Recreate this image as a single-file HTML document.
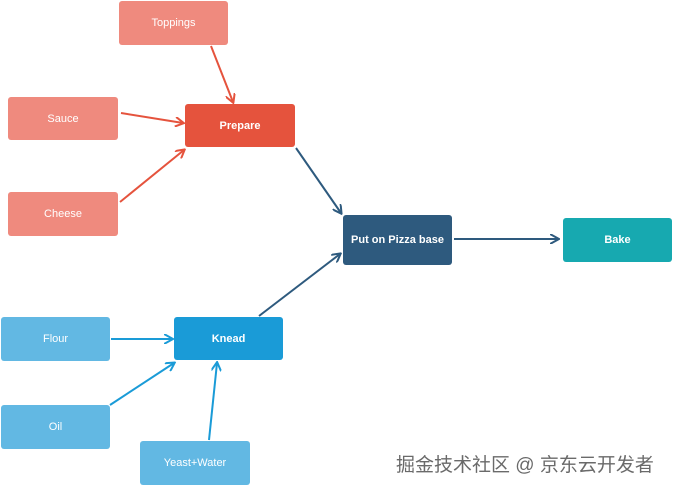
<!DOCTYPE html>
<html><head><meta charset="utf-8"><style>
body{margin:0;width:674px;height:488px;background:#fff;position:relative;overflow:hidden;font-family:"Liberation Sans",Arial,sans-serif}
.n{position:absolute;border-radius:3px;color:#fff;font-size:11px;display:flex;align-items:center;justify-content:center}
.s{background:#ef8a7e}.b{background:#62b8e3}
.wm{position:absolute;left:396px;top:450px;font-size:19px;color:#6a6a6a;font-family:"Liberation Sans","Noto Sans CJK SC",sans-serif;letter-spacing:0px}
</style></head><body>
<svg width="674" height="488" style="position:absolute;left:0;top:0">
<defs>
<marker id="r" markerWidth="10" markerHeight="10" refX="8" refY="5" orient="auto" markerUnits="userSpaceOnUse"><path d="M0,0 L9,5 L0,10" fill="none" stroke="#e5533d" stroke-width="2"/></marker>
<marker id="d" markerWidth="10" markerHeight="10" refX="8" refY="5" orient="auto" markerUnits="userSpaceOnUse"><path d="M0,0 L9,5 L0,10" fill="none" stroke="#2e5a7e" stroke-width="2"/></marker>
<marker id="u" markerWidth="10" markerHeight="10" refX="8" refY="5" orient="auto" markerUnits="userSpaceOnUse"><path d="M0,0 L9,5 L0,10" fill="none" stroke="#1a9bd7" stroke-width="2"/></marker>
</defs>
<g stroke-width="2" fill="none">
<line x1="211" y1="46" x2="233" y2="102" stroke="#e5533d" marker-end="url(#r)"/>
<line x1="121" y1="113" x2="183" y2="123" stroke="#e5533d" marker-end="url(#r)"/>
<line x1="120" y1="202" x2="184" y2="150" stroke="#e5533d" marker-end="url(#r)"/>
<line x1="296" y1="148" x2="341" y2="213" stroke="#2e5a7e" marker-end="url(#d)"/>
<line x1="454" y1="239" x2="558" y2="239" stroke="#2e5a7e" marker-end="url(#d)"/>
<line x1="259" y1="316" x2="340" y2="254" stroke="#2e5a7e" marker-end="url(#d)"/>
<line x1="111" y1="339" x2="172" y2="339" stroke="#1a9bd7" marker-end="url(#u)"/>
<line x1="110" y1="405" x2="174" y2="363" stroke="#1a9bd7" marker-end="url(#u)"/>
<line x1="209" y1="440" x2="217" y2="363" stroke="#1a9bd7" marker-end="url(#u)"/>
</g></svg>
<div class="n s" style="left:119px;top:1px;width:109px;height:44px">Toppings</div>
<div class="n s" style="left:8px;top:97px;width:110px;height:43px">Sauce</div>
<div class="n s" style="left:8px;top:192px;width:110px;height:44px">Cheese</div>
<div class="n" style="left:185px;top:104px;width:110px;height:43px;background:#e5533d;font-weight:bold">Prepare</div>
<div class="n" style="left:343px;top:215px;width:109px;height:50px;background:#2e5a7e;font-weight:bold">Put on Pizza base</div>
<div class="n" style="left:563px;top:218px;width:109px;height:44px;background:#17a9b0;font-weight:bold">Bake</div>
<div class="n b" style="left:1px;top:317px;width:109px;height:44px">Flour</div>
<div class="n" style="left:174px;top:317px;width:109px;height:43px;background:#1a9bd7;font-weight:bold">Knead</div>
<div class="n b" style="left:1px;top:405px;width:109px;height:44px">Oil</div>
<div class="n b" style="left:140px;top:441px;width:110px;height:44px">Yeast+Water</div>
<div class="wm">掘金技术社区 @ 京东云开发者</div>
</body></html>
